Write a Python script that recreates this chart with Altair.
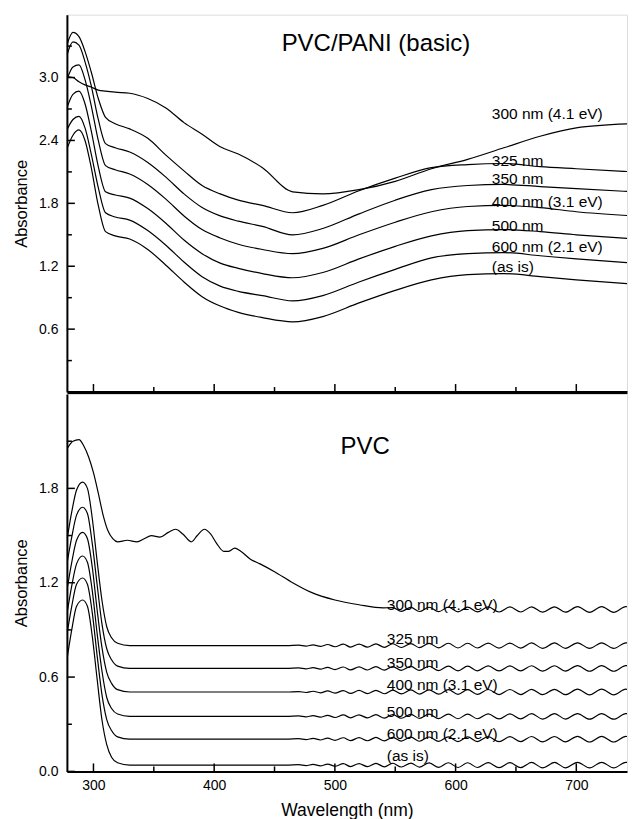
import altair as alt
import pandas as pd

FONT = "Liberation Sans"
W = 561
H = 378

# ---------------- top panel : PVC/PANI (basic) ----------------
curve_names = ["300 nm", "325 nm", "350 nm", "400 nm", "500 nm", "600 nm", "as is"]

top_nm = [278, 283, 288, 293, 298, 304, 310, 318, 330, 345, 360, 375, 390, 405,
          420, 440, 465, 490, 520, 550, 580, 610, 640, 670, 700, 748]
top_300 = [3.01, 3.00, 2.96, 2.93, 2.91, 2.88, 2.87, 2.86, 2.85, 2.80, 2.71, 2.57, 2.46, 2.34,
           2.27, 2.14, 1.91, 1.89, 1.93, 2.01, 2.13, 2.22, 2.33, 2.44, 2.52, 2.56]
top_325 = [3.31, 3.43, 3.39, 3.25, 3.06, 2.80, 2.62, 2.56, 2.51, 2.42, 2.26, 2.11, 1.97, 1.89,
           1.83, 1.78, 1.71, 1.78, 1.92, 2.04, 2.14, 2.17, 2.18, 2.15, 2.13, 2.10]
top_350 = [3.21, 3.34, 3.31, 3.15, 2.93, 2.60, 2.37, 2.33, 2.29, 2.19, 2.05, 1.89, 1.76, 1.68,
           1.63, 1.58, 1.50, 1.56, 1.70, 1.83, 1.93, 1.97, 1.98, 1.96, 1.94, 1.91]
top_400 = [2.98, 3.10, 3.12, 2.98, 2.74, 2.40, 2.16, 2.12, 2.08, 1.98, 1.84, 1.68, 1.55, 1.47,
           1.41, 1.36, 1.32, 1.37, 1.50, 1.62, 1.72, 1.77, 1.78, 1.76, 1.72, 1.68]
top_500 = [2.71, 2.84, 2.87, 2.75, 2.50, 2.15, 1.91, 1.88, 1.85, 1.75, 1.61, 1.45, 1.32, 1.23,
           1.18, 1.13, 1.09, 1.14, 1.27, 1.39, 1.49, 1.54, 1.55, 1.53, 1.50, 1.46]
top_600 = [2.50, 2.60, 2.63, 2.52, 2.28, 1.95, 1.71, 1.67, 1.64, 1.54, 1.40, 1.24, 1.10, 1.01,
           0.96, 0.92, 0.87, 0.92, 1.05, 1.17, 1.28, 1.32, 1.33, 1.30, 1.27, 1.23]
top_asis = [2.32, 2.45, 2.50, 2.40, 2.15, 1.78, 1.53, 1.49, 1.46, 1.36, 1.21, 1.05, 0.91, 0.82,
            0.76, 0.71, 0.67, 0.72, 0.85, 0.97, 1.07, 1.12, 1.13, 1.10, 1.07, 1.03]

top_label_text = ["300 nm (4.1 eV)", "325 nm", "350 nm", "400 nm (3.1 eV)",
                  "500 nm", "600 nm (2.1 eV)", "(as is)"]
top_label_nm = [630, 630, 630, 630, 630, 630, 630]
top_label_A = [2.65, 2.20, 2.03, 1.81, 1.58, 1.38, 1.19]
top_title = ["PVC/PANI (basic)"]
top_title_nm = [534]
top_title_A = [3.32]

# ---------------- bottom panel : PVC ----------------
bot300_nm = [278, 283, 288, 292, 296, 300, 304, 308, 312, 316, 320, 328, 336, 342, 348, 355,
             362, 368, 374, 381, 386, 392, 397, 402, 408, 412, 417, 422, 430, 438, 450, 465,
             480, 500, 520, 540]
bot300_A = [2.05, 2.10, 2.11, 2.07, 2.00, 1.90, 1.77, 1.63, 1.53, 1.48, 1.46, 1.47, 1.46, 1.48,
            1.50, 1.49, 1.52, 1.54, 1.51, 1.46, 1.50, 1.54, 1.51, 1.45, 1.40, 1.40, 1.42, 1.40,
            1.35, 1.32, 1.27, 1.20, 1.14, 1.09, 1.06, 1.04]
bot300_level = 1.03

bot_head_nm = [278, 282, 286, 291, 295, 299, 303, 307, 311, 315, 320, 330, 350, 380, 420, 460]
bot_325 = [1.47, 1.65, 1.79, 1.84, 1.80, 1.61, 1.34, 1.09, 0.92, 0.85, 0.815, 0.80, 0.80, 0.80, 0.80, 0.80]
bot_350 = [1.32, 1.49, 1.63, 1.68, 1.64, 1.45, 1.19, 0.94, 0.78, 0.71, 0.67, 0.655, 0.655, 0.655, 0.655, 0.655]
bot_400 = [1.15, 1.33, 1.47, 1.52, 1.48, 1.30, 1.03, 0.79, 0.63, 0.56, 0.52, 0.505, 0.505, 0.505, 0.505, 0.505]
bot_500 = [1.00, 1.18, 1.32, 1.37, 1.33, 1.15, 0.88, 0.64, 0.47, 0.40, 0.365, 0.35, 0.35, 0.35, 0.35, 0.35]
bot_600 = [0.87, 1.05, 1.19, 1.23, 1.19, 1.01, 0.74, 0.49, 0.33, 0.26, 0.22, 0.205, 0.205, 0.205, 0.205, 0.205]
bot_asis = [0.71, 0.90, 1.05, 1.09, 1.05, 0.86, 0.59, 0.33, 0.17, 0.09, 0.055, 0.04, 0.04, 0.04, 0.04, 0.04]
bot_levels = [0.80, 0.655, 0.505, 0.35, 0.205, 0.04]

# interference fringes (extrema positions and offsets)
fringe_nm = [470, 476, 482, 488, 494, 500, 507, 513, 520, 527, 534, 541, 548, 555, 563, 570,
             578, 586, 594, 602, 610, 618, 627, 636, 645, 654, 663, 672, 682, 691, 701, 711,
             721, 731, 741, 748]
ripple = [0.003, -0.003, 0.005, -0.005, 0.007, -0.007, 0.009, -0.009, 0.010, -0.010, 0.011,
          -0.011, 0.012, -0.012, 0.013, -0.013, 0.014, -0.014, 0.015, -0.015, 0.015, -0.015,
          0.016, -0.016, 0.016, -0.016, 0.017, -0.017, 0.017, -0.017, 0.018, -0.018, 0.018,
          -0.018, 0.018, -0.004]

bot_label_nm = [543, 543, 543, 543, 543, 543, 543]
bot_label_A = [1.06, 0.84, 0.69, 0.55, 0.38, 0.24, 0.10]
bot_title = ["PVC"]
bot_title_nm = [525]
bot_title_A = [2.06]

top_major = [0.6, 1.2, 1.8, 2.4, 3.0]
top_minor = [0.3, 0.9, 1.5, 2.1, 2.7, 3.3]
bot_major = [0.0, 0.6, 1.2, 1.8]
bot_minor = [0.3, 0.9, 1.5, 2.1]
x_major = [300, 400, 500, 600, 700]
x_minor = [350, 450, 550, 650]

# ---------------- tables ----------------
rows = []
for name, vals in zip(curve_names, [top_300, top_325, top_350, top_400, top_500, top_600, top_asis]):
    for n, a in zip(top_nm, vals):
        rows.append({"curve": name, "nm": n, "A": a})
top_df = pd.DataFrame(rows)

rows = []
for n, a in zip(bot300_nm, bot300_A):
    rows.append({"curve": "300 nm", "nm": n, "A": a})
for n, r in zip(fringe_nm, ripple):
    if n >= 548:
        rows.append({"curve": "300 nm", "nm": n, "A": bot300_level + r})
for name, vals, lev in zip(curve_names[1:], [bot_325, bot_350, bot_400, bot_500, bot_600, bot_asis], bot_levels):
    for n, a in zip(bot_head_nm, vals):
        rows.append({"curve": name, "nm": n, "A": a})
    for n, r in zip(fringe_nm, ripple):
        rows.append({"curve": name, "nm": n, "A": lev + r})
bot_df = pd.DataFrame(rows)

xscale = alt.Scale(domain=[278, 742], nice=False, zero=False)


def yaxis(values):
    return alt.Axis(values=values, format=".1f", ticks=False, grid=False,
                    labelFont=FONT, labelFontSize=14, labelColor="black", labelPadding=9,
                    title="Absorbance", titleFont=FONT, titleFontSize=16.5,
                    titleFontWeight="normal", titleColor="black", titlePadding=9,
                    domainColor="black", domainWidth=2)


def panel(df, yvals, ymaj, ymin, dom, xaxis, lab_nm, lab_A, title, t_nm, t_A):
    X = alt.X("nm:Q", scale=xscale, axis=xaxis)
    Y = alt.Y("A:Q", scale=alt.Scale(domain=dom, nice=False, zero=False), axis=yaxis(yvals))
    lines = alt.Chart(df).mark_line(color="black", strokeWidth=1.2, interpolate="monotone",
                                    clip=True).encode(x=X, y=Y, detail="curve:N")
    labs = alt.Chart(pd.DataFrame({"nm": lab_nm, "A": lab_A, "t": top_label_text})).mark_text(
        align="left", baseline="middle", font=FONT, fontSize=15.5, color="black").encode(x=X, y=Y, text="t:N")
    ttl = alt.Chart(pd.DataFrame({"nm": t_nm, "A": t_A, "t": title})).mark_text(
        align="center", baseline="middle", font=FONT, fontSize=24, color="black").encode(x=X, y=Y, text="t:N")
    ymj = alt.Chart(pd.DataFrame({"A": ymaj})).mark_rule(color="black", strokeWidth=1.5).encode(
        y=Y, x=alt.value(0), x2=alt.value(8))
    ymn = alt.Chart(pd.DataFrame({"A": ymin})).mark_rule(color="black", strokeWidth=1.5).encode(
        y=Y, x=alt.value(0), x2=alt.value(5))
    xmj = alt.Chart(pd.DataFrame({"nm": x_major})).mark_rule(color="black", strokeWidth=1.5).encode(
        x=X, y=alt.value(H), y2=alt.value(H - 8))
    xmn = alt.Chart(pd.DataFrame({"nm": x_minor})).mark_rule(color="black", strokeWidth=1.5).encode(
        x=X, y=alt.value(H), y2=alt.value(H - 5))
    return alt.layer(lines, labs, ttl, ymj, ymn, xmj, xmn).properties(width=W, height=H)


top_xaxis = alt.Axis(labels=False, ticks=False, title=None, grid=False,
                     domainColor="black", domainWidth=3)
bot_xaxis = alt.Axis(values=x_major, format="d", ticks=False, grid=False,
                     labelFont=FONT, labelFontSize=14, labelColor="black", labelPadding=7,
                     title="Wavelength (nm)", titleFont=FONT, titleFontSize=17.5,
                     titleFontWeight="normal", titleColor="black", titlePadding=9,
                     domainColor="black", domainWidth=2)

top = panel(top_df, top_major, top_major, top_minor, [0, 3.6], top_xaxis,
            top_label_nm, top_label_A, top_title, top_title_nm, top_title_A)
bottom = panel(bot_df, bot_major, bot_major, bot_minor, [0, 2.4], bot_xaxis,
               bot_label_nm, bot_label_A, bot_title, bot_title_nm, bot_title_A)

chart = alt.vconcat(top, bottom, spacing=-5).properties(
    padding={"left": 5, "top": 5, "right": 0, "bottom": 0}
).configure_view(stroke="black", strokeWidth=1).configure(background="white")

chart.save("out.html", embed_options={"renderer": "svg", "actions": False})
